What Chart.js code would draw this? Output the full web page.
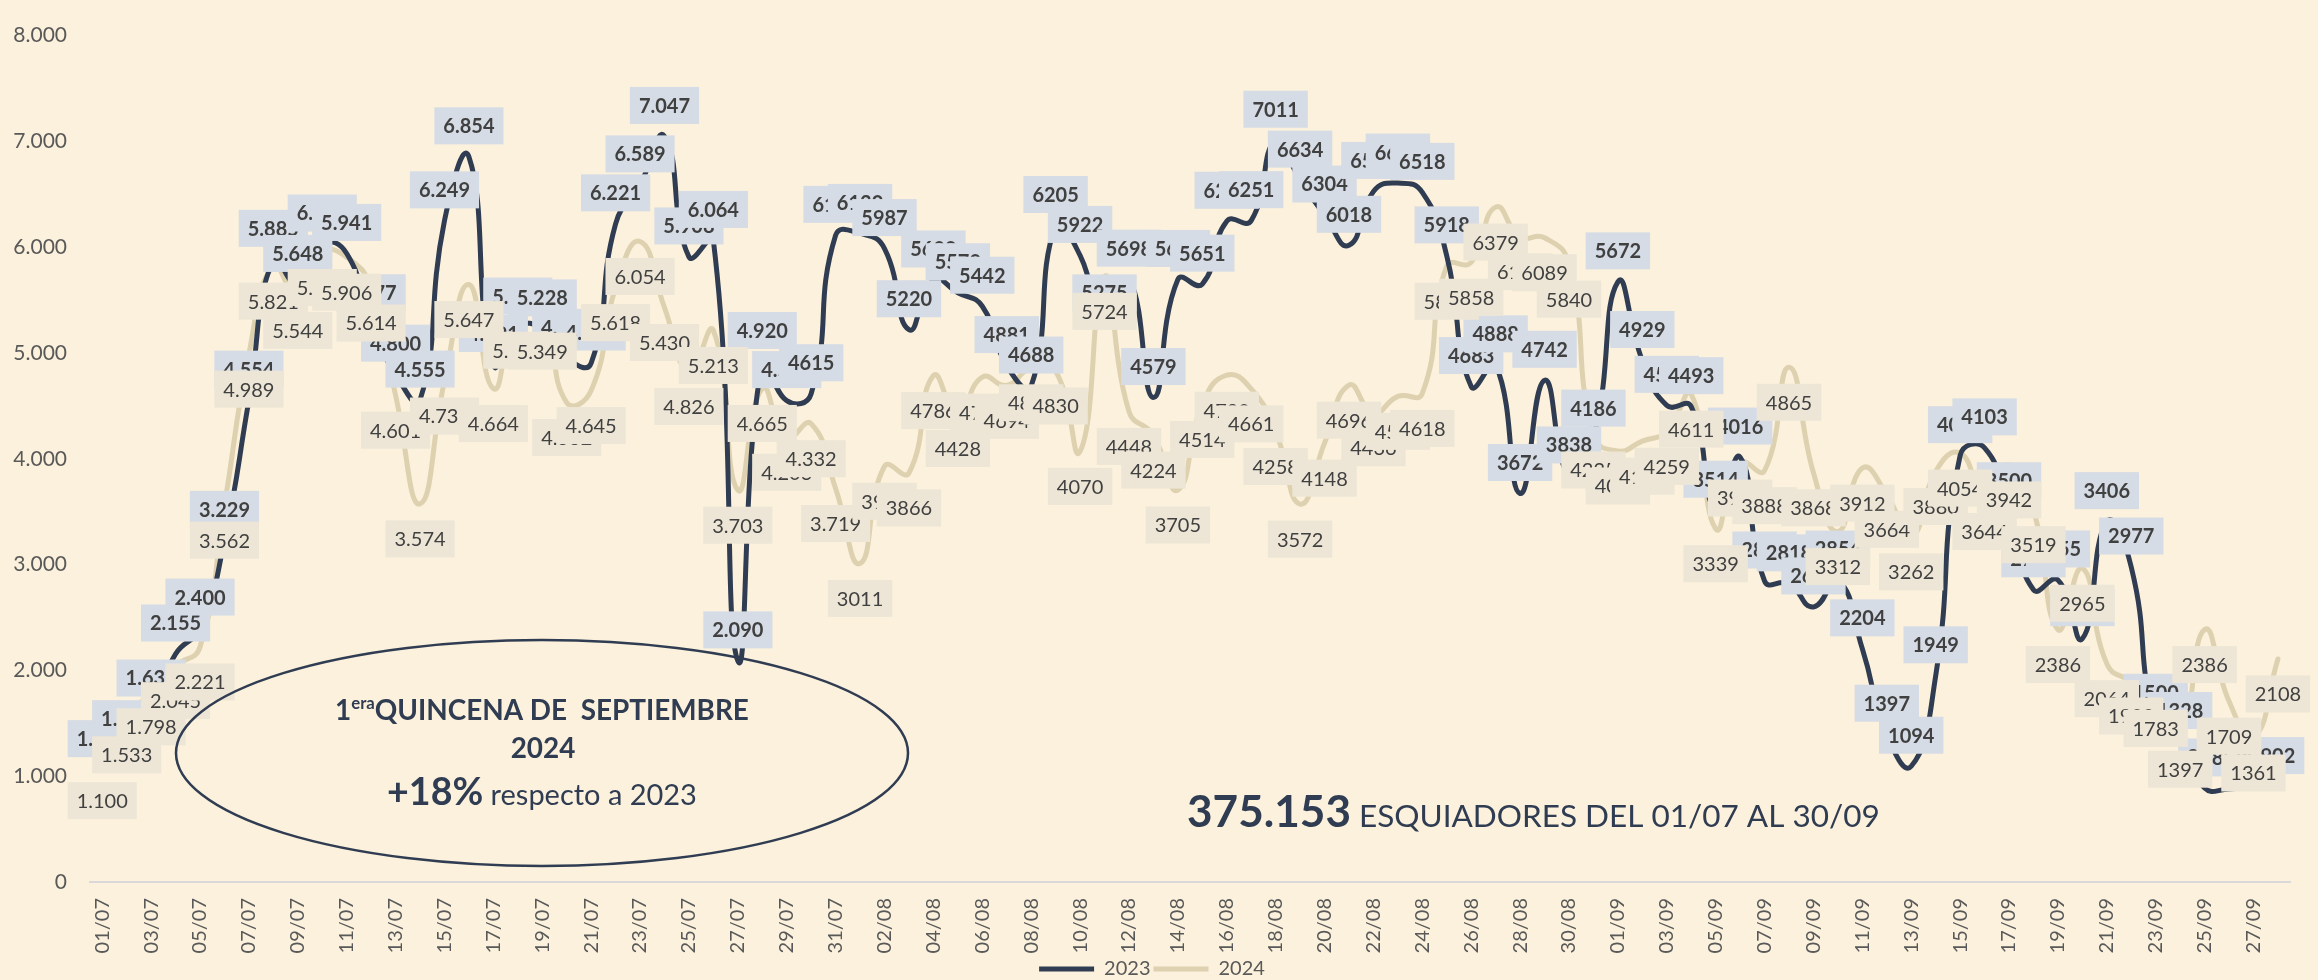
<!DOCTYPE html>
<html><head><meta charset="utf-8">
<script src="https://cdn.jsdelivr.net/npm/chart.js@4.4.1/dist/chart.umd.min.js"></script>
<style>html,body{margin:0;padding:0;background:#FBF1DC;}canvas{display:block;}</style>
</head><body>
<canvas id="c" width="2318" height="980"></canvas>
<script>
const categories = [
'01/07','02/07','03/07','04/07','05/07','06/07','07/07','08/07','09/07','10/07',
'11/07','12/07','13/07','14/07','15/07','16/07','17/07','18/07','19/07','20/07',
'21/07','22/07','23/07','24/07','25/07','26/07','27/07','28/07','29/07','30/07',
'31/07','01/08','02/08','03/08','04/08','05/08','06/08','07/08','08/08','09/08',
'10/08','11/08','12/08','13/08','14/08','15/08','16/08','17/08','18/08','19/08',
'20/08','21/08','22/08','23/08','24/08','25/08','26/08','27/08','28/08','29/08',
'30/08','31/08','01/09','02/09','03/09','04/09','05/09','06/09','07/09','08/09',
'09/09','10/09','11/09','12/09','13/09','14/09','15/09','16/09','17/09','18/09',
'19/09','20/09','21/09','22/09','23/09','24/09','25/09','26/09','27/09','28/09'];

const skiers2023 = [
1062,1251,1635,2155,2400,3229,4554,5885,5648,6030,
5941,5277,4800,4555,6249,6854,4891,5245,5228,4950,
4905,6221,6589,7047,5908,6064,2090,4920,4550,4615,
6112,6130,5987,5220,5690,5570,5442,4881,4688,6205,
5922,5275,5698,4579,5695,5651,6245,6251,7011,6634,
6304,6018,6527,6606,6518,5918,4683,4888,3672,4742,
3838,4186,5672,4929,4505,4493,3514,4016,2845,2818,
2600,2854,2204,1397,1094,1949,4030,4103,3500,2762,
2855,2300,3406,2977,1500,1328,889,880,900,902];

const skiers2024 = [
1100,1533,1798,2045,2221,3562,4989,5821,5544,5950,
5906,5614,4601,3574,4735,5647,4664,5357,5349,4532,
4645,5618,6054,5430,4826,5213,3703,4665,4203,4332,
3719,3011,3929,3866,4786,4428,4772,4694,4860,4830,
4070,5724,4448,4224,3705,4514,4790,4661,4258,3572,
4148,4696,4436,4590,4618,5820,5858,6379,6100,6089,
5840,4225,4074,4167,4259,4611,3339,3960,3888,4865,
3868,3312,3912,3664,3262,3880,4054,3644,3942,3519,
2386,2965,2064,1900,1783,1397,2386,1709,1361,2108];

const seriesNames = ['2023','2024'];
const yTickValues = [0,1000,2000,3000,4000,5000,6000,7000,8000];
// last index whose label uses a thousands separator
const dotLabelUntil = [28, 30];

const NAVY = '#2F3C52', BEIGE = '#DDD1B0', TXT = '#404040', AXT = '#595959';
const FONT = 'Lato, "Open Sans", sans-serif';

function fmt(n, dot) {
  const s = String(n);
  return dot ? s.replace(/\B(?=(\d{3})+(?!\d))/g, '.') : s;
}

const labelStyles = [
  {bg: '#D6DCE5', weight: 'bold', dy: -31},
  {bg: '#EDE6D6', weight: 'normal', dy: 35}
];

const valueLabels = {
  id: 'valueLabels',
  afterDatasetsDraw(chart) {
    const ctx = chart.ctx;
    chart.data.datasets.forEach((ds, di) => {
      const meta = chart.getDatasetMeta(di);
      const st = labelStyles[di];
      ctx.save();
      ctx.font = st.weight + ' 20px ' + FONT;
      ctx.textAlign = 'center';
      ctx.textBaseline = 'middle';
      meta.data.forEach((pt, i) => {
        const txt = fmt(ds.data[i], i <= dotLabelUntil[di]);
        const w = ctx.measureText(txt).width + 18;
        const h = 37;
        const cy = pt.y + st.dy;
        ctx.fillStyle = st.bg;
        ctx.fillRect(pt.x - w / 2, cy - h / 2, w, h);
        ctx.fillStyle = TXT;
        ctx.fillText(txt, pt.x, cy + 1);
      });
      ctx.restore();
    });
  }
};

function drawRuns(ctx, runs, x, baseline, align, target, fixedFactor) {
  let total = 0;
  runs.forEach(r => { ctx.font = r.w + ' ' + r.s + 'px ' + FONT; r.width = ctx.measureText(r.t).width; total += r.width; });
  let f = fixedFactor || (target ? target / total : 1);
  if (f < 0.8) f = 0.8; if (f > 1.25) f = 1.25;
  total = 0;
  runs.forEach(r => { r.size = r.s * f; ctx.font = r.w + ' ' + r.size + 'px ' + FONT; r.width = ctx.measureText(r.t).width; total += r.width; });
  let cx = align === 'center' ? x - total / 2 : x;
  ctx.textAlign = 'left';
  ctx.textBaseline = 'alphabetic';
  runs.forEach(r => {
    ctx.font = r.w + ' ' + r.size + 'px ' + FONT;
    ctx.fillText(r.t, cx, baseline + (r.dy || 0) * f);
    cx += r.width;
  });
  return f;
}

const notes = {
  id: 'notes',
  afterDraw(chart) {
    const ctx = chart.ctx;
    ctx.save();
    ctx.strokeStyle = NAVY;
    ctx.lineWidth = 2.5;
    ctx.beginPath();
    ctx.ellipse(542, 753, 366, 113, 0, 0, Math.PI * 2);
    ctx.stroke();
    ctx.fillStyle = NAVY;
    const f1 = drawRuns(ctx, [
      {t: '1', w: 'bold', s: 25},
      {t: 'era', w: 'bold', s: 15, dy: -10},
      {t: 'QUINCENA DE  SEPTIEMBRE', w: 'bold', s: 25}
    ], 542, 720, 'center', 414);
    drawRuns(ctx, [{t: '2024', w: 'bold', s: 25}], 543, 758, 'center', null, f1);
    drawRuns(ctx, [
      {t: '+18%', w: 'bold', s: 35},
      {t: ' respecto a 2023', w: 'normal', s: 27}
    ], 542, 805, 'center', 310);
    drawRuns(ctx, [
      {t: '375.153', w: 'bold', s: 42},
      {t: ' ESQUIADORES DEL 01/07 AL 30/09', w: 'normal', s: 30}
    ], 1187, 827, 'left', 693);
    ctx.restore();
  }
};

new Chart(document.getElementById('c'), {
  type: 'line',
  data: {
    labels: categories,
    datasets: [
      {label: seriesNames[0], data: skiers2023, borderColor: NAVY, backgroundColor: NAVY,
       borderWidth: 5, pointRadius: 0, tension: 0.5, borderCapStyle: 'round', borderJoinStyle: 'round'},
      {label: seriesNames[1], data: skiers2024, borderColor: BEIGE, backgroundColor: BEIGE,
       borderWidth: 5, pointRadius: 0, tension: 0.5, borderCapStyle: 'round', borderJoinStyle: 'round'}
    ]
  },
  options: {
    responsive: false,
    animation: false,
    events: [],
    layout: {padding: {top: 19, right: 14, bottom: -9, left: 0}},
    plugins: {
      legend: {
        position: 'bottom',
        labels: {usePointStyle: true, pointStyle: 'line', pointStyleWidth: 55,
                 padding: 3, color: AXT, font: {family: FONT, size: 20}}
      },
      tooltip: {enabled: false}
    },
    scales: {
      x: {
        offset: true,
        grid: {display: false, drawTicks: false},
        border: {display: true, color: '#D9D9D9', width: 2},
        ticks: {autoSkip: false, minRotation: 90, maxRotation: 90, padding: 16,
                color: AXT, font: {family: FONT, size: 20},
                callback: (v, i) => i % 2 === 0 ? categories[i] : ''},
        afterFit: s => { s.height = 74; }
      },
      y: {
        min: 0, max: 8000,
        grid: {display: false, drawTicks: false},
        border: {display: false},
        afterBuildTicks: s => { s.ticks = yTickValues.map(v => ({value: v})); },
        ticks: {padding: 23, color: AXT, font: {family: FONT, size: 21},
                callback: v => fmt(v, true)},
        afterFit: s => { s.width = 90; }
      }
    }
  },
  plugins: [valueLabels, notes]
});
</script>
</body></html>
